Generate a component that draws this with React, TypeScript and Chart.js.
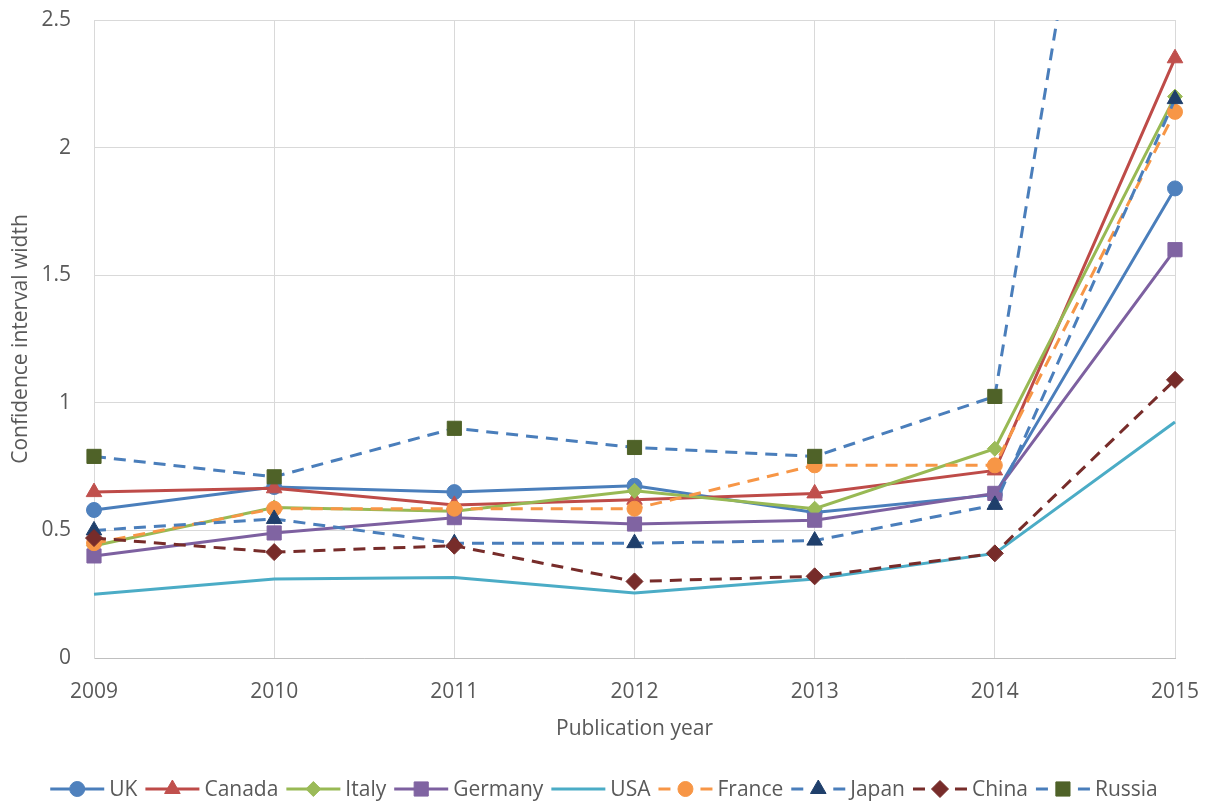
import React, { useEffect, useRef } from 'react';
import { Chart, registerables } from 'chart.js';

Chart.register(...registerables);

// ---------- data ----------
const years = ['2009', '2010', '2011', '2012', '2013', '2014', '2015'];
const ukValues = [0.58, 0.67, 0.65, 0.675, 0.57, 0.64, 1.84];
const canadaValues = [0.65, 0.665, 0.6, 0.62, 0.645, 0.735, 2.35];
const italyValues = [0.44, 0.59, 0.575, 0.655, 0.585, 0.82, 2.2];
const germanyValues = [0.4, 0.49, 0.55, 0.525, 0.54, 0.645, 1.6];
const usaValues = [0.25, 0.31, 0.315, 0.255, 0.31, 0.41, 0.925];
const franceValues = [0.45, 0.585, 0.585, 0.585, 0.755, 0.755, 2.14];
const japanValues = [0.5, 0.545, 0.45, 0.45, 0.46, 0.6, 2.19];
const chinaValues = [0.47, 0.415, 0.44, 0.3, 0.32, 0.41, 1.09];
const russiaValues = [0.79, 0.71, 0.9, 0.825, 0.79, 1.025, 5.3];
const yMin = 0;
const yMax = 2.5;
const yStep = 0.5;

const FONT = "'Open Sans', 'Noto Sans', sans-serif";
const TEXT = '#595959';

type Marker = 'circle' | 'triangle' | 'rectRot' | 'rect' | null;

interface SeriesDef {
  label: string;
  data: number[];
  line: string;
  marker: Marker;
  markerColor: string;
  radius: number;
  dashed: boolean;
}

const series: SeriesDef[] = [
  { label: 'UK', data: ukValues, line: '#4A7EBB', marker: 'circle', markerColor: '#4F81BD', radius: 7.5, dashed: false },
  { label: 'Canada', data: canadaValues, line: '#BE4B48', marker: 'triangle', markerColor: '#C0504D', radius: 9, dashed: false },
  { label: 'Italy', data: italyValues, line: '#98B954', marker: 'rectRot', markerColor: '#9BBB59', radius: 7.5, dashed: false },
  { label: 'Germany', data: germanyValues, line: '#7D60A0', marker: 'rect', markerColor: '#8064A2', radius: 10, dashed: false },
  { label: 'USA', data: usaValues, line: '#4BACC6', marker: null, markerColor: '#4BACC6', radius: 0, dashed: false },
  { label: 'France', data: franceValues, line: '#F79646', marker: 'circle', markerColor: '#F79646', radius: 7.5, dashed: true },
  { label: 'Japan', data: japanValues, line: '#4A7EBB', marker: 'triangle', markerColor: '#1F3F6B', radius: 9, dashed: true },
  { label: 'China', data: chinaValues, line: '#772C2A', marker: 'rectRot', markerColor: '#772C2A', radius: 8.5, dashed: true },
  { label: 'Russia', data: russiaValues, line: '#4A7EBB', marker: 'rect', markerColor: '#4F6228', radius: 10, dashed: true },
];

function drawMarker(ctx: CanvasRenderingContext2D, m: Marker, x: number, y: number, r: number, color: string) {
  if (!m) return;
  ctx.fillStyle = color;
  ctx.strokeStyle = color;
  ctx.lineWidth = 1;
  ctx.setLineDash([]);
  ctx.beginPath();
  if (m === 'circle') {
    ctx.arc(x, y, r, 0, Math.PI * 2);
  } else if (m === 'triangle') {
    ctx.moveTo(x, y - r);
    ctx.lineTo(x + r * 0.866, y + r * 0.5);
    ctx.lineTo(x - r * 0.866, y + r * 0.5);
    ctx.closePath();
  } else if (m === 'rectRot') {
    ctx.moveTo(x - r, y);
    ctx.lineTo(x, y - r);
    ctx.lineTo(x + r, y);
    ctx.lineTo(x, y + r);
    ctx.closePath();
  } else if (m === 'rect') {
    const s = r * Math.SQRT1_2;
    ctx.rect(x - s, y - s, 2 * s, 2 * s);
  }
  ctx.fill();
  ctx.stroke();
}

const legendPlugin = {
  id: 'excelLegend',
  afterDraw(chart: Chart) {
    const ctx = chart.ctx;
    const cy = 789;
    const sampleW = 54;
    const gapText = 5;
    const gapItem = 8;
    ctx.save();
    ctx.font = `21px ${FONT}`;
    ctx.textBaseline = 'middle';
    ctx.textAlign = 'left';
    const widths = series.map((s) => ctx.measureText(s.label).width);
    const total = widths.reduce((a, w) => a + sampleW + gapText + w, 0) + gapItem * (series.length - 1);
    let x = 604 - total / 2;
    series.forEach((s, i) => {
      ctx.strokeStyle = s.line;
      ctx.lineWidth = 3;
      ctx.setLineDash([]);
      ctx.beginPath();
      if (s.dashed) {
        ctx.moveTo(x, cy);
        ctx.lineTo(x + 12, cy);
        ctx.moveTo(x + sampleW - 12, cy);
        ctx.lineTo(x + sampleW, cy);
      } else {
        ctx.moveTo(x, cy);
        ctx.lineTo(x + sampleW, cy);
      }
      ctx.stroke();
      drawMarker(ctx, s.marker, x + sampleW / 2, cy, s.radius, s.markerColor);
      ctx.fillStyle = TEXT;
      ctx.fillText(s.label, x + sampleW + gapText, cy + 1);
      x += sampleW + gapText + widths[i] + gapItem;
    });
    ctx.restore();
  },
};

export default function App() {
  const ref = useRef<HTMLCanvasElement | null>(null);

  useEffect(() => {
    if (!ref.current) return;
    const datasets = series.map((s, i) => ({
      label: s.label,
      data: s.data,
      borderColor: s.line,
      backgroundColor: s.markerColor,
      borderWidth: 3,
      borderDash: s.dashed ? [12, 8] : [],
      tension: 0,
      pointStyle: s.marker || 'circle',
      pointRadius: s.marker ? s.radius : 0,
      pointHoverRadius: s.marker ? s.radius : 0,
      pointBackgroundColor: s.markerColor,
      pointBorderColor: s.markerColor,
      pointBorderWidth: 1,
      fill: false,
      order: series.length - i,
      clip: s.label === 'Russia' ? { left: 20, right: 20, top: 0, bottom: 20 } : false,
    }));

    const chart = new Chart(ref.current, {
      type: 'line',
      data: { labels: years, datasets },
      plugins: [legendPlugin],
      options: {
        responsive: false,
        animation: false,
        devicePixelRatio: 1,
        layout: { padding: { top: 20, right: 36, bottom: 37, left: 0 }, autoPadding: false },
        font: { family: FONT },
        plugins: {
          legend: { display: false },
          tooltip: { enabled: false },
        },
        scales: {
          x: {
            type: 'category',
            offset: false,
            afterFit: (scale: any) => {
              scale.height = 108;
              scale.paddingLeft = 0;
              scale.paddingRight = 0;
            },
            grid: { color: '#D9D9D9', lineWidth: 1, drawTicks: false },
            border: { color: '#BFBFBF', width: 1 },
            ticks: { color: TEXT, font: { family: FONT, size: 21 }, padding: 21, maxRotation: 0, autoSkip: false },
            title: {
              display: true,
              text: 'Publication year',
              color: TEXT,
              font: { family: FONT, size: 21 },
              padding: { top: 0, bottom: 24 },
            },
          },
          y: {
            min: yMin,
            max: yMax,
            afterFit: (scale: any) => {
              scale.width = 94;
              scale.paddingTop = 0;
              scale.paddingBottom = 0;
            },
            grid: { color: '#D9D9D9', lineWidth: 1, drawTicks: false },
            border: { color: '#D9D9D9', width: 1 },
            ticks: {
              stepSize: yStep,
              color: TEXT,
              font: { family: FONT, size: 21 },
              padding: 23,
              callback: (v: any) => String(Number(v)),
            },
            title: {
              display: true,
              text: 'Confidence interval width',
              color: TEXT,
              font: { family: FONT, size: 21 },
              padding: { top: 8, bottom: 0 },
            },
          },
        },
      },
    });
    return () => chart.destroy();
  }, []);

  return (
    <div style={{ position: 'absolute', left: 0, top: 0, width: 1211, height: 803, background: '#fff' }}>
      <canvas ref={ref} width={1211} height={803} style={{ display: 'block', width: 1211, height: 803 }} />
    </div>
  );
}
